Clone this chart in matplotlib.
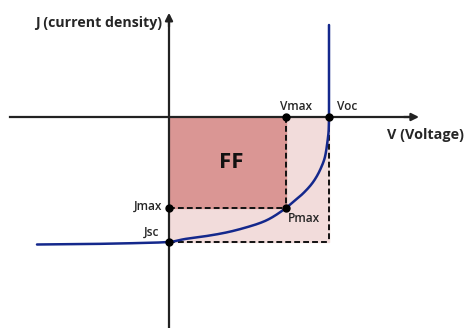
import numpy as np
import matplotlib
matplotlib.use("Agg")
import matplotlib.pyplot as plt

plt.rcParams['font.family'] = ['Open Sans', 'DejaVu Sans']

# J-V curve of a solar cell (normalised: Voc = 1, Jsc = -1)
v_curve = [-0.825, -0.556, -0.244, 0.0, 0.1, 0.225, 0.35, 0.475, 0.6, 0.731,
           0.777, 0.839, 0.902, 0.944, 0.975, 0.989, 0.998, 1.0, 1.0]
j_curve = [-1.02, -1.017, -1.010, -1.0, -0.976, -0.954, -0.926, -0.886, -0.832,
           -0.728, -0.678, -0.610, -0.518, -0.424, -0.318, -0.210, -0.104, 0.0,
           0.736]

voc = 1.0
vmax = 0.731
jsc = -1.0
jmax = -0.728

pt_names = ["Vmax", "Voc", "Jmax", "Jsc", "Pmax"]
pt_v = [vmax, voc, 0.0, 0.0, vmax]
pt_j = [0.0, 0.0, jmax, jsc, jmax]

SX, SY = 160, 125  # pixels per unit of V and J


def pchip(x, y, xn):
    # monotone cubic through the points, only used to draw a smooth line
    x = np.asarray(x, float)
    y = np.asarray(y, float)
    h = np.diff(x)
    d = np.diff(y) / h
    m = np.zeros_like(x)
    for k in range(1, len(x) - 1):
        if d[k - 1] * d[k] > 0:
            w1 = 2 * h[k] + h[k - 1]
            w2 = h[k] + 2 * h[k - 1]
            m[k] = (w1 + w2) / (w1 / d[k - 1] + w2 / d[k])
    m[0], m[-1] = d[0], d[-1]
    idx = np.clip(np.searchsorted(x, xn) - 1, 0, len(h) - 1)
    t = (xn - x[idx]) / h[idx]
    hh = h[idx]
    return ((2 * t**3 - 3 * t**2 + 1) * y[idx] + (t**3 - 2 * t**2 + t) * hh * m[idx]
            + (-2 * t**3 + 3 * t**2) * y[idx + 1] + (t**3 - t**2) * hh * m[idx + 1])


fig = plt.figure(figsize=(4.66, 3.28), dpi=100)
ax = fig.add_axes([0, 0, 1, 1])
ax.set_xlim(-169 / SX, 297 / SX)
ax.set_ylim(-211 / SY, 117 / SY)
ax.axis('off')

# shaded rectangles
ax.fill_between([0, voc], jsc, 0, color='#F2DCDB', zorder=1)
ax.fill_between([0, vmax], jmax, 0, color='#DA9694', zorder=2)

# dashed guides
dash = dict(color='#111111', lw=1.4, ls=(0, (3, 1.6)), zorder=3)
ax.plot([0, vmax], [jmax, jmax], **dash)
ax.plot([vmax, vmax], [0, jmax], **dash)
ax.plot([0, voc], [jsc, jsc], **dash)
ax.plot([voc, voc], [0, jsc], **dash)

# axes with arrows
ax.plot([-0.994, 1.5], [0, 0], color='#222222', lw=1.6, zorder=4)
ax.plot([0, 0], [-1.7, 0.8], color='#222222', lw=1.6, zorder=4)
ax.annotate('', xy=(1.58, 0), xytext=(1.45, 0),
            arrowprops=dict(arrowstyle='-|>', color='#222222', lw=1.6,
                            mutation_scale=11), zorder=4)
ax.annotate('', xy=(0, 0.856), xytext=(0, 0.7),
            arrowprops=dict(arrowstyle='-|>', color='#222222', lw=1.6,
                            mutation_scale=11), zorder=4)

# J-V curve, smoothed along its length (both V and J are monotone in it)
vc = np.array(v_curve)
jc = np.array(j_curve)
s = np.concatenate([[0], np.cumsum(np.hypot(np.diff(vc) * SX, np.diff(jc) * SY))])
ss = np.linspace(0, s[-1], 1500)
ax.plot(pchip(s, vc, ss), pchip(s, jc, ss), color='#14288C', lw=1.8,
        zorder=5, solid_capstyle='round')

# marked points
ax.plot(pt_v, pt_j, 'o', color='black', ms=5, zorder=6)

# labels
ax.text(162 / SX - 169 / SX, (117 - 23) / SY, "J (current density)",
        ha='right', va='center', fontsize=10.2, fontweight='bold',
        color='#262626')
ax.text((387 - 169) / SX, (117 - 135) / SY, "V (Voltage)",
        ha='left', va='center', fontsize=10.4, fontweight='bold',
        color='#262626')
ax.text((231 - 169) / SX, (117 - 163) / SY, "FF", ha='center',
        va='center', fontsize=16, fontweight='bold', color='#111111')

small = dict(fontsize=8.6, color='#262626', va='center', fontweight='semibold')
ax.text((296 - 169) / SX, (117 - 106) / SY, "Vmax", ha='center', **small)
ax.text((337 - 169) / SX, (117 - 107) / SY, "Voc", ha='left', **small)
ax.text((162 - 169) / SX, (117 - 206) / SY, "Jmax", ha='right', **small)
ax.text((159 - 169) / SX, (117 - 232) / SY, "Jsc", ha='right', **small)
ax.text((288 - 169) / SX, (117 - 219) / SY, "Pmax", ha='left', **small)

fig.savefig('out.png', dpi=100)
